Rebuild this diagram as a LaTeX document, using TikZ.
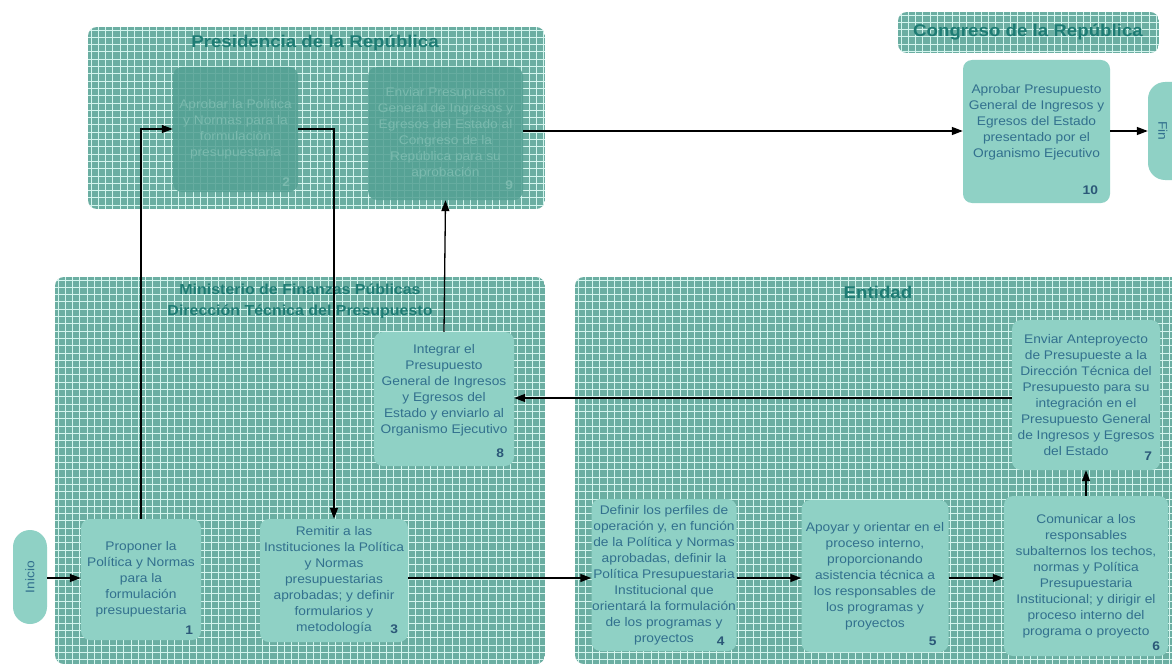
\documentclass[tikz,border=0pt]{standalone}
\usepackage{fontspec}
\setmainfont{Liberation Sans}[FakeStretch=1.1]
\usetikzlibrary{arrows.meta}
\definecolor{panelfill}{HTML}{6BAEA2}
\definecolor{gridc}{HTML}{D4F5EE}
\definecolor{boxfill}{HTML}{8FD1C5}
\definecolor{darkbox}{HTML}{53A093}
\definecolor{txt}{HTML}{32708E}
\definecolor{faint}{HTML}{7BBAAE}
\definecolor{ttl}{HTML}{1E7C74}
\definecolor{numc}{HTML}{2B5878}
\newcommand\gridpanel[4]{%
  \begin{scope}
    \clip[rounded corners=9pt] (#1,#2) rectangle (#3,#4);
    \fill[panelfill] (#1,#2) rectangle (#3,#4);
    \foreach \i in {0,...,90} {\draw[gridline] ({#1+3+\i*7.3},#2) -- ({#1+3+\i*7.3},#4);}
    \foreach \i in {0,...,60} {\draw[gridline] (#1,{#2+3+\i*7.3}) -- (#3,{#2+3+\i*7.3});}
  \end{scope}}
\begin{document}
\begin{tikzpicture}[x=1pt,y=-1pt,
  gridline/.style={draw=gridc,line width=0.9pt},
  stepbox/.style={fill=boxfill,rounded corners=9pt,inner sep=0pt,text=txt,align=center,
    font=\fontsize{12.5}{16}\selectfont},
  fadebox/.style={stepbox,fill=darkbox,fill opacity=0.85,text opacity=1,text=faint},
  numlab/.style={font=\bfseries\fontsize{12.5}{14}\selectfont,text=numc,inner sep=0pt},
  fadenum/.style={numlab,text=faint},
  ttlstyle/.style={font=\bfseries\fontsize{17}{20}\selectfont,text=ttl,inner sep=0pt,align=center},
  pill/.style={fill=boxfill,rounded corners=17pt,inner sep=0pt,text=txt,font=\fontsize{12.5}{15}\selectfont},
  arr/.style={line width=1.3pt,-{Triangle[length=11pt,width=8pt]}}]
\useasboundingbox (0,0) rectangle (1172,666);
\fill[white] (0,0) rectangle (1172,666);
% panels
\gridpanel{88}{27}{545}{209}
\gridpanel{898}{12}{1159}{53}
\gridpanel{55}{277}{545}{664}
\gridpanel{575}{277}{1200}{664}
% titles
\node[ttlstyle] (tPres) at (315,43) {Presidencia de la República};
\node[ttlstyle] (tCong) at (1028,32) {Congreso de la República};
\node[ttlstyle,font=\bfseries\fontsize{14.5}{21}\selectfont] (tMin) at (300,301) {Ministerio de Finanzas Públicas\\Dirección Técnica del Presupuesto};
\node[ttlstyle] (tEnt) at (878,292) {Entidad};
% terminals
\node[pill,minimum width=34pt,minimum height=94pt] (ini) at (30,577) {\rotatebox{90}{Inicio}};
\node[pill,minimum width=44pt,minimum height=98pt] (fin) at (1170,131) {\hspace*{-14pt}\rotatebox{-90}{Fin}};
% steps
\node[stepbox,minimum width=120pt,minimum height=121pt] (n1) at (141,579.5)
  {Proponer la\\Política y Normas\\para la\\formulación\\presupuestaria};
\node[numlab,anchor=south east] (l1) at ([xshift=-8pt,yshift=6pt]n1.south east) {1};
\node[fadebox,minimum width=125pt,minimum height=125pt] (n2) at (235.5,129.5)
  {Aprobar la Política\\y Normas para la\\formulación\\presupuestaria};
\node[fadenum,anchor=south east] (l2) at ([xshift=-8pt,yshift=6pt]n2.south east) {2};
\node[stepbox,minimum width=148pt,minimum height=123pt] (n3) at (334,580.5)
  {Remitir a las\\Instituciones la Política\\y Normas\\presupuestarias\\aprobadas; y definir\\formularios y\\metodología};
\node[numlab,anchor=south east] (l3) at ([xshift=-10pt,yshift=8pt]n3.south east) {3};
\node[stepbox,minimum width=145pt,minimum height=152pt] (n4) at (664,575)
  {Definir los perfiles de\\operación y, en función\\de la Política y Normas\\aprobadas, definir la\\Política Presupuestaria\\Institucional que\\orientará la formulación\\de los programas y\\proyectos};
\node[numlab,anchor=south east] (l4) at ([xshift=-12pt,yshift=6pt]n4.south east) {4};
\node[stepbox,minimum width=147pt,minimum height=152pt] (n5) at (875,576)
  {Apoyar y orientar en el\\proceso interno,\\proporcionando\\asistencia técnica a\\los responsables de\\los programas y\\proyectos};
\node[numlab,anchor=south east] (l5) at ([xshift=-12pt,yshift=6pt]n5.south east) {5};
\node[stepbox,minimum width=164pt,minimum height=160pt] (n6) at (1086,576)
  {Comunicar a los\\responsables\\subalternos los techos,\\normas y Política\\Presupuestaria\\Institucional; y dirigir el\\proceso interno del\\programa o proyecto};
\node[numlab,anchor=south east] (l6) at ([xshift=-8pt,yshift=5pt]n6.south east) {6};
\node[stepbox,minimum width=148pt,minimum height=150pt] (n7) at (1086,395)
  {Enviar Anteproyecto\\de Presupueste a la\\Dirección Técnica del\\Presupuesto para su\\integración en el\\Presupuesto General\\de Ingresos y Egresos\\del Estado\hspace*{20pt}};
\node[numlab,anchor=south east] (l7) at ([xshift=-8pt,yshift=10pt]n7.south east) {7};
\node[stepbox,minimum width=140pt,minimum height=134pt] (n8) at (444,399)
  {Integrar el\\Presupuesto\\General de Ingresos\\y Egresos del\\Estado y enviarlo al\\Organismo Ejecutivo\\[4pt]};
\node[numlab,anchor=south east] (l8) at ([xshift=-10pt,yshift=8pt]n8.south east) {8};
\node[fadebox,minimum width=155pt,minimum height=133pt] (n9) at (445.5,133.5)
  {Enviar Presupuesto\\General de Ingresos y\\Egresos del Estado al\\Congreso de la\\República para su\\aprobación};
\node[fadenum,anchor=south east] (l9) at ([xshift=-10pt,yshift=10pt]n9.south east) {9};
\node[stepbox,minimum width=147pt,minimum height=143pt] (n10) at (1036.5,131.5)
  {Aprobar Presupuesto\\General de Ingresos y\\Egresos del Estado\\presentado por el\\Organismo Ejecutivo\\[6pt]};
\node[numlab,anchor=south east] (l10) at ([xshift=-12pt,yshift=8pt]n10.south east) {10};
% connectors
\draw[arr] (ini.east |- 0,578) -- (n1.west |- 0,578);
\draw[arr] (n1.north) -- (n1.north |- 0,129) -- (n2.west |- 0,129);
\draw[arr] (n2.east |- 0,129) -- (n3.north |- 0,129) -- (n3.north);
\draw[arr] (n3.east |- 0,578) -- (n4.west |- 0,578);
\draw[arr] (n4.east |- 0,578) -- (n5.west |- 0,578);
\draw[arr] (n5.east |- 0,578) -- (n6.west |- 0,578);
\draw[arr] (n6.north) -- (n7.south);
\draw[arr] (n7.west |- 0,398) -- (n8.east |- 0,398);
\draw[arr] (n8.north) -- (n9.south);
\draw[arr] (n9.east |- 0,131) -- (n10.west |- 0,131);
\draw[arr] (n10.east |- 0,131) -- (fin.west |- 0,131);
\end{tikzpicture}
\end{document}
